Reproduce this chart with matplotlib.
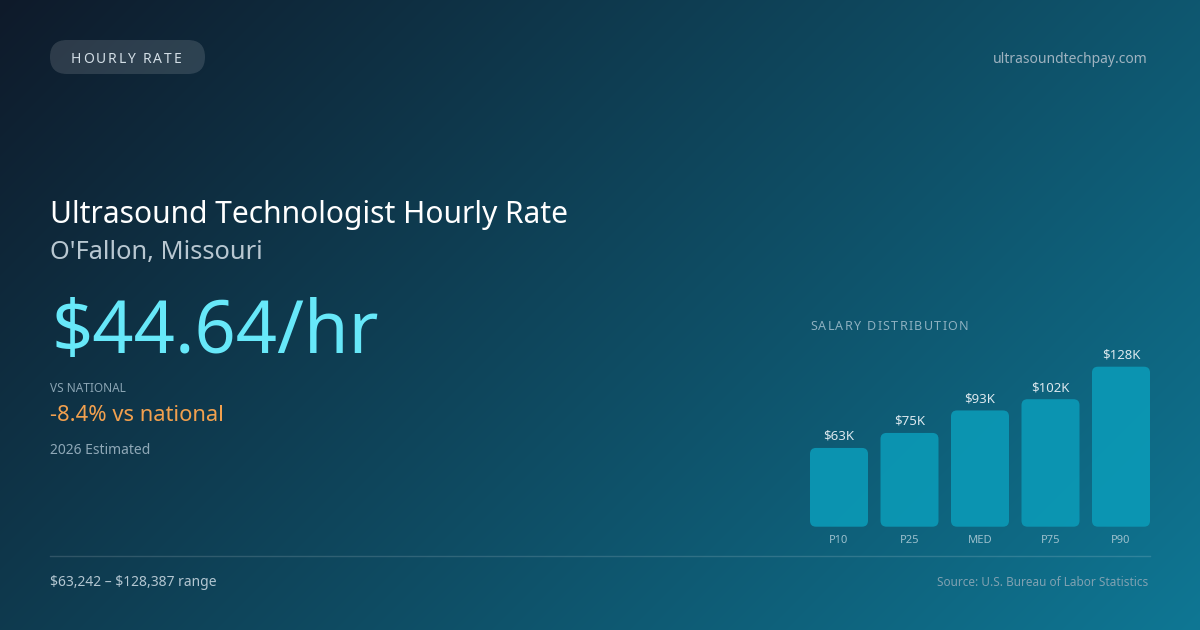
import matplotlib
matplotlib.use("Agg")
import matplotlib.pyplot as plt
import numpy as np
from matplotlib.patches import FancyBboxPatch
from matplotlib.colors import to_rgb

plt.rcParams['font.family'] = ['Noto Sans', 'DejaVu Sans']

# datos del gráfico
categorias = ['P10', 'P25', 'MED', 'P75', 'P90']
salarios_k = [63, 75, 93, 102, 128]
etiquetas = ['$63K', '$75K', '$93K', '$102K', '$128K']

titulo = 'Ultrasound Technologist Hourly Rate'
lugar = "O'Fallon, Missouri"
tarifa = '$44.64/hr'
vs_nacional = '-8.4% vs national'
rango = r'\$63,242 – \$128,387 range'
fuente = 'Source: U.S. Bureau of Labor Statistics'

W, H = 1200, 630
fig = plt.figure(figsize=(12, 6.3), dpi=100)
ax = fig.add_axes([0, 0, 1, 1])
ax.set_xlim(0, W)
ax.set_ylim(H, 0)
ax.axis('off')

# fondo con degradado diagonal (135 grados)
c0 = np.array(to_rgb('#0f1a2a'))
c1 = np.array(to_rgb('#0e7794'))
xx, yy = np.meshgrid(np.arange(W) + 0.5, np.arange(H) + 0.5)
t = ((xx - W / 2) + (yy - H / 2)) / (W + H) + 0.5
t = np.clip(t, 0, 1)[..., None]
img = c0 * (1 - t) + c1 * t
ax.imshow(img, extent=(0, W, H, 0), aspect='auto', zorder=0)

renderer = fig.canvas.get_renderer()


def texto_espaciado(x, y, s, espacio, **kw):
    # dibuja letra por letra para simular letter-spacing
    for ch in s:
        txt = ax.text(x, y, ch, **kw)
        ancho = txt.get_window_extent(renderer).width
        if ch == ' ':
            ancho = kw.get('fontsize', 10) * 0.36
        x += ancho + espacio


# etiqueta tipo pastilla
pill = FancyBboxPatch((50, 40), 155, 34, boxstyle='round,pad=0,rounding_size=17',
                      fc='white', alpha=0.13, ec='none', zorder=1)
ax.add_patch(pill)
texto_espaciado(71, 63, 'HOURLY RATE', 1.8, fontsize=10, color='#d3dee6', va='baseline', zorder=2)

ax.text(1148, 63, 'ultrasoundtechpay.com', fontsize=10, color='#9fb3c0', ha='right', va='baseline')

ax.text(50, 223, titulo, fontsize=21.6, color='white', va='baseline')
ax.text(50, 259, lugar, fontsize=18.3, color='#b8c7d1', va='baseline')
ax.text(51, 353, tarifa, fontsize=52, color='#67e8f9', va='baseline')
ax.text(50, 392, 'VS NATIONAL', fontsize=8.5, color='#8aa4b3', va='baseline')
ax.text(50, 421, vs_nacional, fontsize=15.8, color='#f2a04e', va='baseline')
ax.text(50, 454, '2026 Estimated', fontsize=10, color='#8fa8b7', va='baseline')

texto_espaciado(810, 330, 'SALARY DISTRIBUTION', 1.3, fontsize=9, color='#8db0c0', va='baseline')

# línea separadora y pie
ax.plot([50, 1150], [556, 556], color='white', alpha=0.14, lw=1)
ax.text(50, 586, rango, fontsize=10, color='#b3c6d1', va='baseline')
ax.text(1148, 586, fuente, fontsize=8.5, color='#7fa1b1', ha='right', va='baseline')

# gráfico de barras
y_base, y_top = 526.7, 366.7
axb = fig.add_axes([810 / W, (H - y_base) / H, 340 / W, (y_base - y_top) / H])
axb.patch.set_alpha(0)
axb.axis('off')
pos = np.arange(len(categorias))
ancho_barra = 58 / 70.5
axb.set_xlim(-0.5 * ancho_barra, len(categorias) - 1 + 0.5 * ancho_barra)
axb.set_ylim(0, max(salarios_k))
barras = axb.bar(pos, salarios_k, width=ancho_barra)

x_px = (axb.get_xlim()[1] - axb.get_xlim()[0]) / 340
y_px = max(salarios_k) / (y_base - y_top)
for b, et, cat in zip(barras, etiquetas, categorias):
    bx, by = b.get_x(), b.get_y()
    bw, bh = b.get_width(), b.get_height()
    b.remove()
    r = FancyBboxPatch((bx, by), bw, bh,
                       boxstyle='round,pad=0,rounding_size=%f' % (6 * x_px),
                       mutation_aspect=y_px / x_px, fc='#0b9ab7', alpha=0.9,
                       ec='none', clip_on=False)
    axb.add_patch(r)
    axb.text(bx + bw / 2, bh + 8 * y_px, et, ha='center', va='baseline',
             fontsize=9.5, color='#dce8ee', clip_on=False)
    axb.text(bx + bw / 2, -16 * y_px, cat, ha='center', va='baseline',
             fontsize=8, color='#9cc0cd', clip_on=False)

fig.savefig('out.png', dpi=100)
